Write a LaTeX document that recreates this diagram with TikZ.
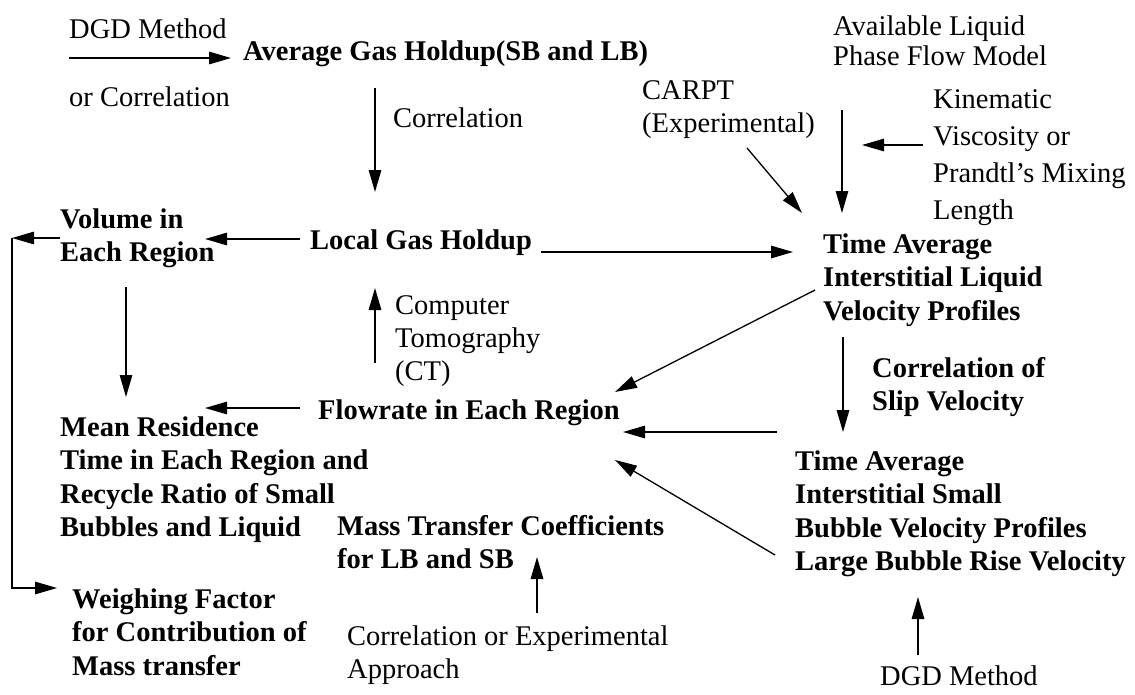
\documentclass[tikz,border=0pt]{standalone}
\usepackage{fontspec}
\setmainfont{Liberation Serif}
\usetikzlibrary{arrows.meta}
\newcommand\fstrut{\rule{0pt}{22pt}}
\begin{document}
\begin{tikzpicture}[x=1pt,y=-1pt,
  txt/.style={anchor=north west, inner sep=0pt, yshift=22pt, align=left, font=\fontsize{28.5}{33.5}\selectfont},
  bt/.style={txt, font=\fontsize{28.5}{33.5}\selectfont\bfseries},
  arr/.style={line width=1.3pt, -{Triangle[length=22pt,width=12.5pt]}}]
\fill[white] (0,0) rectangle (1135,694);
\useasboundingbox (0,0) rectangle (1135,694);

% texts
\node[txt] (dgd) at (69,38) {\fstrut DGD Method};
\node[txt] (orc) at (69,106) {\fstrut or Correlation};
\node[bt] (avg) at (243,60) {\fstrut Average Gas Holdup(SB and LB)};
\node[txt] (corr) at (393,127) {\fstrut Correlation};
\node[txt, font=\fontsize{28.5}{30}\selectfont] (avail) at (833,35) {\fstrut Available Liquid\\Phase Flow Model};
\node[txt] (carpt) at (642,99) {\fstrut CARPT\\(Experimental)};
\node[txt, font=\fontsize{28.5}{37}\selectfont] (kin) at (933,108) {\fstrut Kinematic\\Viscosity or\\Prandtl's Mixing\\Length};
\node[bt] (vol) at (60,228) {\fstrut Volume in\\Each Region};
\node[bt] (lgh) at (310,249) {\fstrut Local Gas Holdup};
\node[bt] (tal) at (823,253) {\fstrut Time Average\\Interstitial Liquid\\Velocity Profiles};
\node[txt, font=\fontsize{28.5}{33}\selectfont] (ct) at (395,314) {\fstrut Computer\\Tomography\\(CT)};
\node[bt] (slip) at (872,377) {\fstrut Correlation of\\Slip Velocity};
\node[bt] (flow) at (318,419) {\fstrut Flowrate in Each Region};
\node[bt] (mean) at (60,436) {\fstrut Mean Residence\\Time in Each Region and\\Recycle Ratio of Small\\Bubbles and Liquid};
\node[bt] (tas) at (795,470) {\fstrut Time Average\\Interstitial Small\\Bubble Velocity Profiles\\Large Bubble Rise Velocity};
\node[bt] (mass) at (337,535) {\fstrut Mass Transfer Coefficients\\for LB and SB};
\node[bt] (weigh) at (72,608) {\fstrut Weighing Factor\\for Contribution of\\Mass transfer};
\node[txt] (cor2) at (347,645) {\fstrut Correlation or Experimental\\Approach};
\node[txt] (dgd2) at (880,685) {\fstrut DGD Method};

% connector end points
\coordinate (dgdS) at (69,58);    \coordinate (avgW) at (231,58);
\coordinate (avgS) at (375,88);   \coordinate (lghN) at (375,192);
\coordinate (lghW) at (300,239);  \coordinate (volE) at (205,239);
\coordinate (volW) at (60,238);   \coordinate (cornT) at (12,238);
\coordinate (cornB) at (12,588);  \coordinate (weighW) at (57,588);
\coordinate (volS) at (126,287);  \coordinate (meanN) at (126,397);
\coordinate (flowW) at (300,408); \coordinate (meanE) at (205,408);
\coordinate (flowN) at (375,363); \coordinate (lghS) at (375,288);
\coordinate (lghE) at (541,252);  \coordinate (talW) at (793,252);
\coordinate (carptS) at (747,148);\coordinate (talNW) at (802,213);
\coordinate (availS) at (842,110);\coordinate (talN) at (842,213);
\coordinate (kinW) at (923,145);  \coordinate (kinT) at (862,145);
\coordinate (talSW) at (815,290); \coordinate (flowE1) at (615,392);
\coordinate (talS) at (843,337);  \coordinate (tasN) at (843,432);
\coordinate (tasW) at (777,432);  \coordinate (flowE2) at (623,432);
\coordinate (tasSW) at (775,555); \coordinate (flowE3) at (615,460);
\coordinate (dgdN) at (918,655);  \coordinate (tasS) at (918,597);
\coordinate (corN) at (537,613);  \coordinate (massS) at (537,557);

% connectors
\draw[arr] (dgdS) -- (avgW);
\draw[arr] (avgS) -- (lghN);
\draw[arr] (lghW) -- (volE);
\draw[arr] (volW) -- (cornT);
\draw[arr] (cornT) -- (cornB) -- (weighW);
\draw[arr] (volS) -- (meanN);
\draw[arr] (flowW) -- (meanE);
\draw[arr] (flowN) -- (lghS);
\draw[arr] (lghE) -- (talW);
\draw[arr] (carptS) -- (talNW);
\draw[arr] (availS) -- (talN);
\draw[arr] (kinW) -- (kinT);
\draw[arr] (talSW) -- (flowE1);
\draw[arr] (talS) -- (tasN);
\draw[arr] (tasW) -- (flowE2);
\draw[arr] (tasSW) -- (flowE3);
\draw[arr] (dgdN) -- (tasS);
\draw[arr] (corN) -- (massS);
\end{tikzpicture}
\end{document}
